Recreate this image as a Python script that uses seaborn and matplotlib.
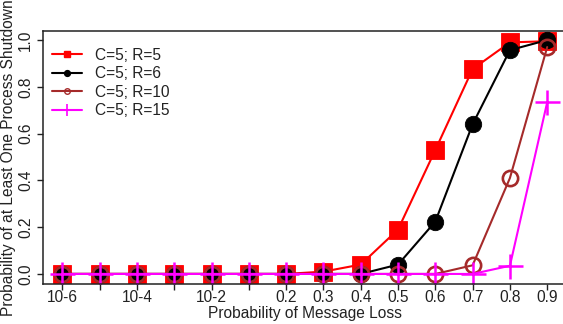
import matplotlib
matplotlib.use("Agg")
import matplotlib.pyplot as plt
from matplotlib.lines import Line2D
import numpy as np
import pandas as pd
import seaborn as sns

# Message-loss levels on the x axis (one slot per level)
loss_levels = ["1e-6", "1e-5", "1e-4", "1e-3", "1e-2", "1e-1",
               "0.2", "0.3", "0.4", "0.5", "0.6", "0.7", "0.8", "0.9"]
tick_labels = ["10-6", "", "10-4", "", "10-2", "",
               "0.2", "0.3", "0.4", "0.5", "0.6", "0.7", "0.8", "0.9"]

# Probability that at least one process shuts down
p_r5 = [0, 0, 0, 0, 0, 0, 0, 0.01, 0.04, 0.19, 0.53, 0.876, 0.99, 0.995]
p_r6 = [0, 0, 0, 0, 0, 0, 0, 0, 0, 0.04, 0.224, 0.64, 0.957, 1.0]
p_r10 = [0, 0, 0, 0, 0, 0, 0, 0, 0, 0, 0, 0.037, 0.41, 0.97]
p_r15 = [0, 0, 0, 0, 0, 0, 0, 0, 0, 0, 0, 0, 0.035, 0.734]

series_labels = ["C=5; R=5", "C=5; R=6", "C=5; R=10", "C=5; R=15"]

sns.set_theme(style="ticks")
plt.rcParams["font.family"] = ["Liberation Sans", "DejaVu Sans"]
FS = 11.2

fig = plt.figure(figsize=(5.63, 3.24), dpi=100)
ax = fig.add_axes([43 / 563, 1 - 284 / 324, (566.6 - 43) / 563, (284 - 30.7) / 324])

xpos = np.arange(len(loss_levels))
df = pd.DataFrame({"pos": xpos, "r5": p_r5, "r6": p_r6, "r10": p_r10, "r15": p_r15})

styles = [
    ("r5", "#ff0000", dict(marker="s", markersize=12.3, markeredgewidth=0.6,
                            markerfacecolor="#ff0000", markeredgecolor="#ff0000")),
    ("r6", "#000000", dict(marker="o", markersize=11.8, markeredgewidth=0.6,
                            markerfacecolor="#000000", markeredgecolor="#000000")),
    ("r10", "#a52a2a", dict(marker="o", markersize=11.0, markeredgewidth=1.9,
                             markerfacecolor="none", markeredgecolor="#a52a2a")),
    ("r15", "#ff00ff", dict(marker="+", markersize=18, markeredgewidth=1.8,
                             markeredgecolor="#ff00ff")),
]

for col, color, mk in styles:
    sns.lineplot(data=df, x="pos", y=col, ax=ax, color=color, linewidth=1.5,
                 legend=False, **mk)

ax.set_xlim(-0.52, 13.52)
ax.set_ylim(-0.043, 1.04)
ax.set_xticks(xpos)
ax.set_xticklabels(tick_labels, fontsize=FS)
ax.set_yticks([0, 0.2, 0.4, 0.6, 0.8, 1.0])
ax.set_yticklabels(["0.0", "0.2", "0.4", "0.6", "0.8", "1.0"], fontsize=FS,
                   rotation=90, va="center")
ax.tick_params(axis="x", length=4, width=1, pad=0.3, colors="#222222", labelcolor="#222222")
ax.tick_params(axis="y", length=4, width=1, pad=3.0, colors="#222222", labelcolor="#222222")

for side in ["left", "bottom", "top"]:
    ax.spines[side].set_color("#222222")
    ax.spines[side].set_linewidth(1.1)
ax.spines["right"].set_visible(False)

ax.set_xlabel("Probability of Message Loss", fontsize=FS, labelpad=0.5, color="#222222")
ax.set_ylabel("Probability of at Least One Process Shutdown", fontsize=FS,
              labelpad=1.5, color="#222222")

handles = [
    Line2D([], [], color="#ff0000", lw=1.5, marker="s", markersize=4.6,
           markerfacecolor="#ff0000", markeredgecolor="#ff0000"),
    Line2D([], [], color="#000000", lw=1.5, marker="o", markersize=4.2,
           markerfacecolor="#000000", markeredgecolor="#000000"),
    Line2D([], [], color="#a52a2a", lw=1.5, marker="o", markersize=4.0,
           markerfacecolor="none", markeredgecolor="#a52a2a", markeredgewidth=1.0),
    Line2D([], [], color="#ff00ff", lw=1.5, marker="+", markersize=8.5,
           markeredgecolor="#ff00ff", markeredgewidth=1.2),
]
ax.legend(handles, series_labels, loc="upper left", bbox_to_anchor=(0.0, 0.969),
          frameon=False, fontsize=FS, handlelength=1.9, handletextpad=0.84,
          labelspacing=0.22, borderaxespad=0.0, borderpad=0.6,
          labelcolor="#222222")

fig.savefig("out.png", dpi=100)
